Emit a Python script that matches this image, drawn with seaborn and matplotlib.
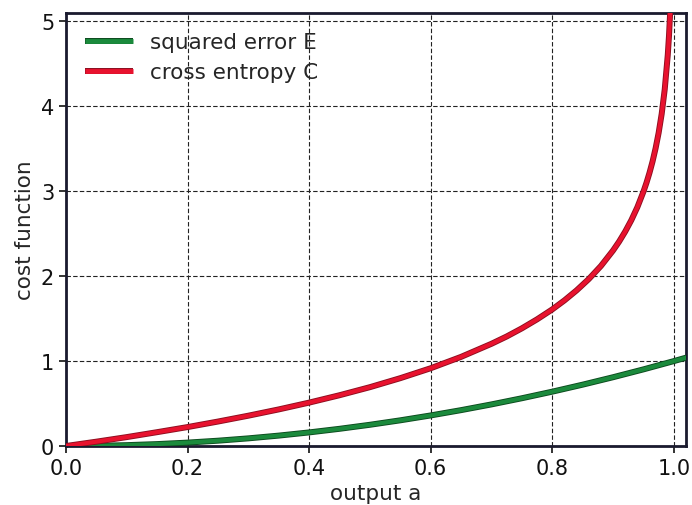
import matplotlib
matplotlib.use("Agg")
import matplotlib.pyplot as plt
import matplotlib.patheffects as pe
import seaborn as sns
import pandas as pd

# values
a_cross = [0.0, 0.05, 0.1, 0.15, 0.2, 0.25, 0.3, 0.35, 0.4, 0.45, 0.5, 0.55, 0.6,
           0.65, 0.7, 0.725, 0.75, 0.775, 0.8, 0.82, 0.84, 0.86, 0.88, 0.9, 0.91,
           0.92, 0.93, 0.94, 0.95, 0.955, 0.96, 0.965, 0.97, 0.975, 0.98, 0.985,
           0.99, 0.992, 0.994]
c_cross = [0.0, 0.051, 0.105, 0.163, 0.223, 0.288, 0.357, 0.431, 0.511, 0.598,
           0.693, 0.799, 0.916, 1.050, 1.204, 1.290, 1.386, 1.492, 1.609, 1.715,
           1.833, 1.966, 2.120, 2.303, 2.408, 2.526, 2.659, 2.813, 2.996, 3.101,
           3.219, 3.352, 3.507, 3.689, 3.912, 4.200, 4.605, 4.828, 5.116]
a_sq = [0.0, 0.05, 0.1, 0.15, 0.2, 0.25, 0.3, 0.35, 0.4, 0.45, 0.5, 0.55, 0.6,
        0.65, 0.7, 0.75, 0.8, 0.85, 0.9, 0.95, 1.0, 1.02]
e_sq = [0.0, 0.0025, 0.01, 0.0225, 0.04, 0.0625, 0.09, 0.1225, 0.16, 0.2025,
        0.25, 0.3025, 0.36, 0.4225, 0.49, 0.5625, 0.64, 0.7225, 0.81, 0.9025,
        1.0, 1.0404]
x_ticks = [0.0, 0.2, 0.4, 0.6, 0.8, 1.0]
y_ticks = [0, 1, 2, 3, 4, 5]
labels = ["squared error E", "cross entropy C"]

sns.set_style("white")
plt.rcParams['font.family'] = ['DejaVu Sans']

fig = plt.figure(figsize=(6.92, 5.06), dpi=100)
ax = fig.add_axes([66/692, 59/506, 620/692, 433/506])

df_sq = pd.DataFrame({"a": a_sq, "v": e_sq})
df_ce = pd.DataFrame({"a": a_cross, "v": c_cross})

sns.lineplot(data=df_sq, x="a", y="v", ax=ax, color="#1b8a3c", lw=3.0,
             label=labels[0], zorder=3,
             path_effects=[pe.Stroke(linewidth=4.3, foreground="#0c4a1e"), pe.Normal()])
sns.lineplot(data=df_ce, x="a", y="v", ax=ax, color="#e8122e", lw=3.0,
             label=labels[1], zorder=3,
             path_effects=[pe.Stroke(linewidth=4.3, foreground="#8c0f20"), pe.Normal()])

ax.set_xlim(0, 1.02)
ax.set_ylim(0, 5.1)
ax.set_xticks(x_ticks)
ax.set_xticklabels([f"{t:.1f}" for t in x_ticks])
ax.set_yticks(y_ticks)
ax.set_yticklabels([str(t) for t in y_ticks])
ax.grid(True, color="#222222", linestyle=(0, (4, 2)), linewidth=0.8)
ax.tick_params(axis="both", which="both", direction="out", length=5, width=1.2,
               labelsize=15, colors="#111111", left=True, bottom=True)
for s in ax.spines.values():
    s.set_color("#1a1a2e")
    s.set_linewidth(2)
ax.set_xlabel("output a", fontsize=15.5, labelpad=4)
ax.set_ylabel("cost function", fontsize=15.5, labelpad=4)

leg = ax.legend(loc="upper left", frameon=False, fontsize=15.5, handlelength=2.2,
                handletextpad=0.8, borderaxespad=0.5, labelspacing=0.45)
for h in leg.get_lines():
    h.set_linewidth(3.5)
    h.set_solid_capstyle("butt")

fig.savefig("out.png", dpi=100)
